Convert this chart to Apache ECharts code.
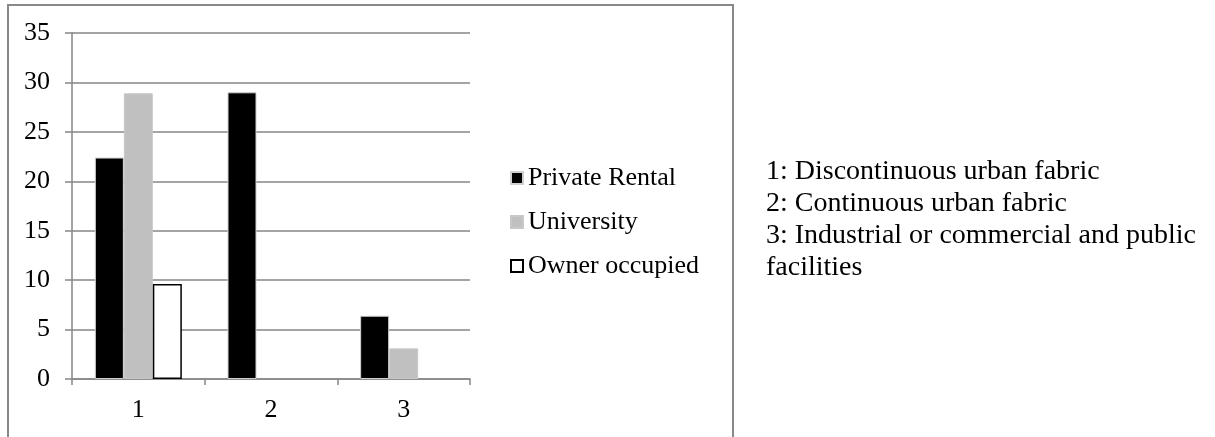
<!DOCTYPE html>
<html>
<head>
<meta charset="utf-8">
<script src="https://cdn.jsdelivr.net/npm/echarts@6/dist/echarts.min.js"></script>
<style>
html,body{margin:0;padding:0;background:#fff;}
#chart{width:1215px;height:437px;}
</style>
</head>
<body>
<div id="chart"></div>
<script>
const categories = ['1', '2', '3'];
const privateRental = [22.4, 29.0, 6.4];
const university = [28.9, null, 3.1];
const ownerOccupied = [9.6, null, null];
const seriesNames = ['Private Rental', 'University', 'Owner occupied'];
const noteLines = [
  '1: Discontinuous urban fabric',
  '2: Continuous urban fabric',
  '3: Industrial or commercial and public',
  'facilities'
];

const FONT = '"Liberation Serif", "Times New Roman", serif';
const chart = echarts.init(document.getElementById('chart'), null, {renderer: 'canvas'});

chart.setOption({
  animation: false,
  textStyle: {fontFamily: FONT},
  grid: {left: 72, right: 745, top: 33, bottom: 58, containLabel: false},
  legend: {
    orient: 'vertical',
    left: 510,
    top: 165,
    padding: 0,
    itemWidth: 12,
    itemHeight: 12,
    itemGap: 18,
    icon: 'rect',
    textStyle: {fontFamily: FONT, fontSize: 26, color: '#000', lineHeight: 26},
    data: seriesNames
  },
  xAxis: {
    type: 'category',
    data: categories,
    axisLine: {lineStyle: {color: '#868686', width: 1.5}},
    axisTick: {show: true, length: 6, lineStyle: {color: '#868686', width: 1.5}},
    axisLabel: {fontFamily: FONT, fontSize: 26, color: '#000', margin: 18},
    splitLine: {show: false}
  },
  yAxis: {
    type: 'value',
    min: 0,
    max: 35,
    interval: 5,
    axisLine: {show: true, lineStyle: {color: '#868686', width: 1.5}},
    axisTick: {show: true, length: 7, lineStyle: {color: '#868686', width: 1.5}},
    axisLabel: {fontFamily: FONT, fontSize: 26, color: '#000', margin: 22},
    splitLine: {show: true, lineStyle: {color: '#868686', width: 1.5}}
  },
  series: [
    {
      name: seriesNames[0], type: 'bar', data: privateRental,
      barWidth: 29, barGap: '0%',
      itemStyle: {color: '#000', borderColor: '#d0d0d0', borderWidth: 1}
    },
    {
      name: seriesNames[1], type: 'bar', data: university,
      barWidth: 29, barGap: '0%',
      itemStyle: {color: '#c0c0c0', borderColor: '#c8c8c8', borderWidth: 1}
    },
    {
      name: seriesNames[2], type: 'bar', data: ownerOccupied,
      barWidth: 29, barGap: '0%',
      itemStyle: {color: '#fff', borderColor: '#000', borderWidth: 1.5}
    }
  ],
  graphic: [
    {
      type: 'rect', silent: true, z: -1,
      shape: {x: 8, y: 5, width: 725, height: 450},
      style: {fill: 'none', stroke: '#888', lineWidth: 2}
    },
    {
      type: 'text', left: 766, top: 156,
      style: {
        text: noteLines.join('\n'),
        font: '28px ' + FONT,
        lineHeight: 32,
        fill: '#000'
      }
    }
  ]
});
</script>
</body>
</html>
